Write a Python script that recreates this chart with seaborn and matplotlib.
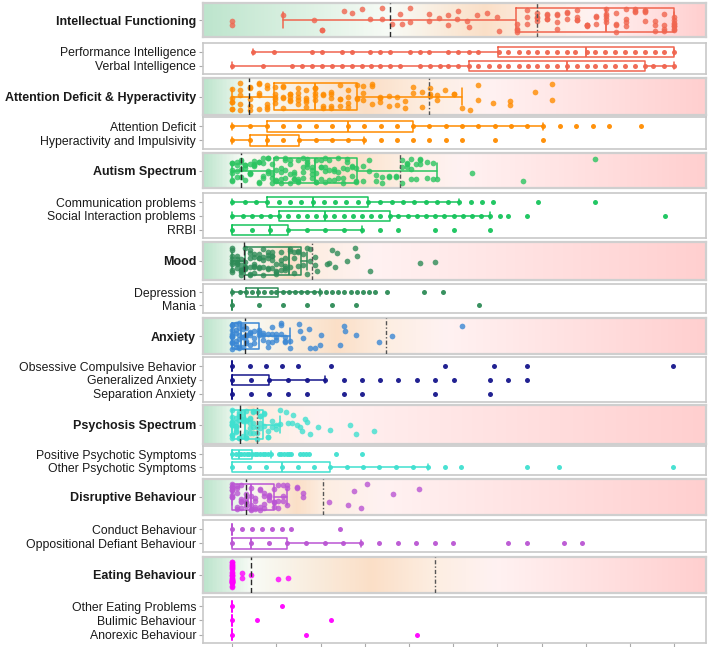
import numpy as np
import pandas as pd
import matplotlib
matplotlib.use('Agg')
import matplotlib.pyplot as plt
from matplotlib.colors import LinearSegmentedColormap
import seaborn as sns

# ---- domain scores (value, how many children at that value) ----
intel_vals = [0.0, 0.116, 0.184, 0.203, 0.252, 0.271, 0.293, 0.312, 0.339, 0.361, 0.380, 0.384,
              0.403, 0.446, 0.467, 0.489, 0.508, 0.512, 0.531, 0.535, 0.554, 0.576, 0.599, 0.603,
              0.645, 0.667, 0.690, 0.712, 0.735, 0.757, 0.780, 0.802, 0.823, 0.845, 0.868, 0.890,
              0.912, 0.934, 0.957, 0.976, 1.0]
intel_counts = [2, 1, 1, 2, 1, 1, 1, 1, 2, 1, 1, 1, 2, 2, 1, 2, 1, 1, 1, 1, 1, 1, 1, 1,
                4, 3, 4, 4, 4, 3, 4, 4, 3, 5, 4, 4, 3, 4, 3, 4, 8]

adh_vals = [0.0, 0.018, 0.041, 0.060, 0.078, 0.097, 0.115, 0.131, 0.149, 0.168, 0.187, 0.206,
            0.224, 0.243, 0.262, 0.282, 0.297, 0.316, 0.335, 0.354, 0.373, 0.391, 0.410, 0.429,
            0.448, 0.463, 0.482, 0.501, 0.520, 0.537, 0.557, 0.591, 0.629, 0.684, 0.723]
adh_counts = [6, 5, 5, 5, 5, 5, 5, 5, 5, 5, 5, 4, 5, 4, 4, 3, 3, 3, 3, 2, 2, 2, 2, 2,
              3, 2, 1, 2, 1, 1, 2, 1, 2, 1, 2]

aut_vals = [0.0, 0.010, 0.020, 0.030, 0.040, 0.050, 0.060, 0.070, 0.080, 0.090, 0.100, 0.110,
            0.120, 0.130, 0.140, 0.150, 0.160, 0.170, 0.180, 0.190, 0.200, 0.210, 0.220, 0.230,
            0.240, 0.250, 0.260, 0.270, 0.280, 0.295, 0.310, 0.325, 0.340, 0.355, 0.370, 0.385,
            0.395, 0.405, 0.415, 0.425, 0.440, 0.455, 0.463, 0.542, 0.658, 0.821]
aut_counts = [6, 4, 4, 4, 4, 4, 4, 4, 4, 4, 4, 4, 4, 4, 4, 4, 4, 4, 4, 4, 4, 4, 3, 3,
              3, 3, 3, 3, 3, 2, 2, 2, 2, 2, 2, 3, 3, 3, 2, 3, 2, 2, 1, 1, 1, 1]

mood_vals = [0.0, 0.010, 0.020, 0.030, 0.040, 0.050, 0.060, 0.070, 0.080, 0.090, 0.100, 0.110,
             0.120, 0.130, 0.140, 0.150, 0.160, 0.169, 0.176, 0.188, 0.191, 0.214, 0.218, 0.225,
             0.233, 0.237, 0.259, 0.278, 0.282, 0.312, 0.425, 0.459]
mood_counts = [8, 6, 6, 6, 6, 6, 5, 5, 5, 5, 4, 4, 4, 3, 3, 3, 2, 2, 2, 2, 1, 1, 1, 1,
               1, 1, 1, 1, 1, 1, 1, 1]

anx_vals = [0.0, 0.008, 0.016, 0.024, 0.032, 0.040, 0.050, 0.060, 0.070, 0.080, 0.090, 0.100,
            0.110, 0.120, 0.130, 0.151, 0.154, 0.161, 0.173, 0.176, 0.188, 0.199, 0.202, 0.243,
            0.252, 0.256, 0.280, 0.333, 0.361, 0.521]
anx_counts = [10, 6, 6, 5, 5, 4, 3, 3, 3, 3, 3, 3, 3, 3, 2, 1, 1, 1, 1, 1, 1, 1, 1, 1,
              1, 1, 1, 1, 1, 1]

psy_vals = [0.0, 0.008, 0.016, 0.024, 0.032, 0.040, 0.048, 0.056, 0.064, 0.072, 0.080, 0.090,
            0.100, 0.108, 0.122, 0.127, 0.135, 0.137, 0.146, 0.154, 0.157, 0.165, 0.170, 0.176,
            0.195, 0.222, 0.267, 0.280, 0.320]
psy_counts = [10, 7, 6, 6, 6, 5, 5, 4, 4, 3, 3, 2, 2, 2, 1, 1, 1, 1, 1, 1, 1, 1, 1, 1,
              1, 1, 1, 1, 1]

dis_vals = [0.0, 0.010, 0.021, 0.031, 0.042, 0.052, 0.063, 0.073, 0.083, 0.094, 0.104, 0.115,
            0.125, 0.146, 0.161, 0.220, 0.261, 0.276, 0.292, 0.306, 0.363, 0.423]
dis_counts = [8, 5, 5, 5, 5, 4, 4, 4, 4, 4, 3, 3, 3, 2, 2, 1, 1, 1, 1, 1, 1, 1]

eat_vals = [0.0, 0.022, 0.042, 0.104, 0.127]
eat_counts = [25, 2, 1, 1, 1]

# box stats: [whisker low, q1, median, q3, whisker high]
intel_box = [0.116, 0.643, 0.846, 1.0, 1.0]
adh_box = [0.0, 0.095, 0.188, 0.282, 0.520]
aut_box = [0.0, 0.094, 0.188, 0.282, 0.463]
mood_box = [0.0, 0.030, 0.128, 0.155, 0.170]
anx_box = [0.0, 0.0, 0.020, 0.060, 0.130]
psy_box = [0.0, 0.0, 0.030, 0.070, 0.108]
dis_box = [0.0, 0.0, 0.042, 0.094, 0.125]
eat_box = [0.0, 0.0, 0.0, 0.0, 0.0]

# the two reference cut-offs (dashed lines) per domain
intel_cut = [0.357, 0.689]
adh_cut = [0.039, 0.445]
aut_cut = [0.020, 0.380]
mood_cut = [0.026, 0.180]
anx_cut = [0.028, 0.348]
psy_cut = [0.017, 0.057]
dis_cut = [0.031, 0.205]
eat_cut = [0.042, 0.460]

# ---- subscales ----
perf_iq = [0.048, 0.094, 0.180, 0.203, 0.248, 0.271, 0.312, 0.335, 0.357, 0.403, 0.425, 0.446,
           0.489, 0.512, 0.535, 0.557, 0.603, 0.625, 0.648, 0.670, 0.689, 0.712, 0.735, 0.757,
           0.776, 0.802, 0.821, 0.844, 0.867, 0.889, 0.912, 0.934, 0.957, 0.976, 1.0]
verbal_iq = [0.0, 0.069, 0.135, 0.158, 0.180, 0.203, 0.225, 0.248, 0.271, 0.293, 0.314, 0.335,
             0.357, 0.380, 0.425, 0.448, 0.471, 0.489, 0.512, 0.535, 0.557, 0.580, 0.603, 0.625,
             0.648, 0.670, 0.689, 0.712, 0.735, 0.757, 0.780, 0.802, 0.821, 0.844, 0.867, 0.889,
             0.912, 0.934, 0.953, 0.976, 1.0]
perf_box = [0.048, 0.601, 0.801, 1.0, 1.0]
verbal_box = [0.0, 0.535, 0.757, 0.934, 1.0]

att_def = [0.0, 0.041, 0.078, 0.115, 0.152, 0.189, 0.225, 0.263, 0.299, 0.336, 0.373, 0.410,
           0.446, 0.483, 0.521, 0.557, 0.594, 0.631, 0.668, 0.704, 0.741, 0.778, 0.816, 0.852,
           0.925]
hyper_imp = [0.0, 0.041, 0.078, 0.115, 0.152, 0.189, 0.225, 0.263, 0.299, 0.336, 0.373, 0.410,
             0.446, 0.483, 0.521, 0.594, 0.704]
att_box = [0.0, 0.078, 0.263, 0.410, 0.704]
hyper_box = [0.0, 0.041, 0.078, 0.152, 0.299]

comm = [0.0, 0.028, 0.054, 0.078, 0.105, 0.130, 0.155, 0.182, 0.207, 0.233, 0.258, 0.284,
        0.308, 0.335, 0.361, 0.386, 0.412, 0.438, 0.463, 0.489, 0.514, 0.540, 0.565, 0.591,
        0.693, 0.821]
social = [0.0, 0.024, 0.045, 0.066, 0.086, 0.107, 0.127, 0.148, 0.169, 0.190, 0.210, 0.231,
          0.252, 0.273, 0.293, 0.314, 0.335, 0.356, 0.376, 0.397, 0.418, 0.439, 0.459, 0.480,
          0.501, 0.522, 0.542, 0.563, 0.584, 0.605, 0.625, 0.667, 0.980]
rrbi = [0.0, 0.045, 0.086, 0.127, 0.169, 0.210, 0.252, 0.293, 0.335, 0.376, 0.459, 0.501, 0.584]
comm_box = [0.0, 0.078, 0.182, 0.308, 0.514]
social_box = [0.0, 0.107, 0.210, 0.356, 0.584]
rrbi_box = [0.0, 0.0, 0.086, 0.127, 0.293]

depression = [0.0, 0.017, 0.031, 0.044, 0.059, 0.072, 0.087, 0.100, 0.114, 0.128, 0.142, 0.156,
              0.170, 0.184, 0.198, 0.212, 0.226, 0.240, 0.254, 0.268, 0.282, 0.296, 0.310, 0.324,
              0.351, 0.434, 0.476]
mania = [0.0, 0.060, 0.115, 0.170, 0.226, 0.281, 0.559]
dep_box = [0.0, 0.031, 0.059, 0.103, 0.198]
mania_box = [0.0, 0.0, 0.0, 0.0, 0.0]

ocb = [0.0, 0.040, 0.076, 0.112, 0.150, 0.224, 0.482, 0.592, 0.666, 0.998]
gen_anx = [0.0, 0.043, 0.084, 0.127, 0.169, 0.210, 0.252, 0.293, 0.335, 0.376, 0.418, 0.459,
           0.501, 0.584, 0.625, 0.667]
sep_anx = [0.0, 0.043, 0.084, 0.127, 0.169, 0.252, 0.293, 0.459, 0.584]
ocb_box = [0.0, 0.0, 0.0, 0.0, 0.0]
gen_box = [0.0, 0.0, 0.0, 0.084, 0.210]
sep_box = [0.0, 0.0, 0.0, 0.0, 0.0]

pos_psy = [0.0, 0.009, 0.015, 0.021, 0.027, 0.033, 0.039, 0.045, 0.051, 0.057, 0.063, 0.069,
           0.075, 0.081, 0.087, 0.105, 0.111, 0.117, 0.123, 0.129, 0.133, 0.154, 0.160, 0.166,
           0.173, 0.235, 0.293]
oth_psy = [0.0, 0.039, 0.076, 0.112, 0.148, 0.185, 0.222, 0.259, 0.296, 0.333, 0.370, 0.408,
           0.444, 0.482, 0.518, 0.666, 0.740, 0.998]
pos_box = [0.0, 0.0, 0.015, 0.045, 0.087]
oth_box = [0.0, 0.0, 0.112, 0.222, 0.444]

conduct = [0.0, 0.023, 0.045, 0.067, 0.089, 0.112, 0.133, 0.244]
odd = [0.0, 0.042, 0.084, 0.125, 0.167, 0.209, 0.250, 0.292, 0.333, 0.375, 0.416, 0.459,
       0.500, 0.625, 0.667, 0.750, 0.792]
conduct_box = [0.0, 0.0, 0.0, 0.0, 0.0]
odd_box = [0.0, 0.0, 0.042, 0.125, 0.292]

oth_eat = [0.0, 0.112]
bulimic = [0.0, 0.057, 0.223]
anorexic = [0.0, 0.167, 0.418]
zero_box = [0.0, 0.0, 0.0, 0.0, 0.0]

domains = [
    ('Intellectual Functioning', intel_vals, intel_counts, intel_box, intel_cut, '#F0654F',
     ['Performance Intelligence', 'Verbal Intelligence'], [perf_iq, verbal_iq],
     [perf_box, verbal_box], '#F0654F'),
    ('Attention Deficit & Hyperactivity', adh_vals, adh_counts, adh_box, adh_cut, '#FF8C00',
     ['Attention Deficit', 'Hyperactivity and Impulsivity'], [att_def, hyper_imp],
     [att_box, hyper_box], '#FF8C00'),
    ('Autism Spectrum', aut_vals, aut_counts, aut_box, aut_cut, '#2BC460',
     ['Communication problems', 'Social Interaction problems', 'RRBI'], [comm, social, rrbi],
     [comm_box, social_box, rrbi_box], '#17C45C'),
    ('Mood', mood_vals, mood_counts, mood_box, mood_cut, '#2E8B57',
     ['Depression', 'Mania'], [depression, mania], [dep_box, mania_box], '#2E8B57'),
    ('Anxiety', anx_vals, anx_counts, anx_box, anx_cut, '#3A87D4',
     ['Obsessive Compulsive Behavior', 'Generalized Anxiety', 'Separation Anxiety'],
     [ocb, gen_anx, sep_anx], [ocb_box, gen_box, sep_box], '#16168C'),
    ('Psychosis Spectrum', psy_vals, psy_counts, psy_box, psy_cut, '#40E0D0',
     ['Positive Psychotic Symptoms', 'Other Psychotic Symptoms'], [pos_psy, oth_psy],
     [pos_box, oth_box], '#40E0D0'),
    ('Disruptive Behaviour', dis_vals, dis_counts, dis_box, dis_cut, '#BA55D3',
     ['Conduct Behaviour', 'Oppositional Defiant Behaviour'], [conduct, odd],
     [conduct_box, odd_box], '#BA55D3'),
    ('Eating Behaviour', eat_vals, eat_counts, eat_box, eat_cut, '#FF00FF',
     ['Other Eating Problems', 'Bulimic Behaviour', 'Anorexic Behaviour'],
     [oth_eat, bulimic, anorexic], [zero_box, zero_box, zero_box], '#FF00FF'),
]

# panel rows in pixels (top, bottom)
panel_px = [(3, 37), (43, 74), (78, 115), (117, 149), (153, 188), (193, 238), (242, 280),
            (284, 313), (318, 354), (357, 402), (405, 444), (446, 475), (479, 515),
            (520, 552), (557, 593), (597, 643)]

sns.set_style('white')
plt.rcParams['font.family'] = ['Liberation Sans', 'DejaVu Sans']

W, H = 709, 647
XMIN, XMAX = -0.066, 1.072

fig = plt.figure(figsize=(W / 100, H / 100), dpi=100)


def make_ax(top, bottom):
    return fig.add_axes([203 / W, 1 - bottom / H, 503 / W, (bottom - top) / H])


def add_boxes(ax, boxes, color, width, cap):
    stats = [dict(whislo=b[0], q1=b[1], med=b[2], q3=b[3], whishi=b[4]) for b in boxes]
    lp = dict(color=color, lw=1.1)
    ax.bxp(stats, positions=list(range(len(boxes))), widths=width, capwidths=cap,
           orientation='horizontal', showfliers=False, manage_ticks=False,
           boxprops=lp, whiskerprops=lp, capprops=lp,
           medianprops=dict(color=color, lw=1.3), zorder=2)


def grad_cmap(cut):
    f = lambda v: (v - XMIN) / (XMAX - XMIN)
    a, b = f(cut[0]), f(cut[1])
    stops = [(0.0, '#bde5cd'), (a, '#f8fbf6'), (a + 0.65 * (b - a), '#fbdfc7'),
             (b, '#fdeee2'), (min(b + 0.12, 0.93), '#fff2f2'), (1.0, '#ffcfcf')]
    return LinearSegmentedColormap.from_list('bg', stops)


def style_ax(ax, edge, lw):
    for s in ax.spines.values():
        s.set_color(edge)
        s.set_linewidth(lw)
    ax.set_xlim(XMIN, XMAX)
    ax.set_xlabel('')
    ax.set_ylabel('')
    ax.tick_params(axis='y', left=True, length=3, width=0.8, color='#aaaaaa', pad=2,
                   labelcolor='#1a1a1a')
    ax.tick_params(axis='x', bottom=False, labelbottom=False)


for i, (name, vals, counts, box, cut, col, sub_names, sub_vals, sub_boxes, sub_col) in enumerate(domains):
    # domain panel
    ax = make_ax(*panel_px[2 * i])
    ax.imshow(np.linspace(0, 1, 400).reshape(1, -1), extent=[XMIN, XMAX, -0.5, 0.5],
              aspect='auto', cmap=grad_cmap(cut), zorder=0)
    np.random.seed(i + 3)
    sns.stripplot(x=np.repeat(vals, counts), ax=ax, color=col, jitter=0.37, size=4.1,
                  alpha=0.8, linewidth=0, zorder=3)
    add_boxes(ax, [box], col, 0.72, 0.45)
    ax.axvline(cut[0], color='#2a2a2a', ls=(0, (4, 2)), lw=1.0, zorder=4)
    ax.axvline(cut[1], color='#555555', ls=(0, (3, 1.5, 1, 1.5)), lw=1.0, zorder=4)
    ax.set_ylim(0.5, -0.5)
    style_ax(ax, '#cfcfcf', 1.6)
    ax.set_yticks([0])
    ax.set_yticklabels([name], fontsize=9, fontweight='bold')

    # subscale panel
    ax = make_ax(*panel_px[2 * i + 1])
    df = pd.DataFrame({'scale': np.repeat(sub_names, [len(v) for v in sub_vals]),
                       'value': np.concatenate(sub_vals)})
    sns.stripplot(data=df, x='value', y='scale', order=sub_names, ax=ax, color=sub_col,
                  jitter=False, size=3.6, alpha=0.95, linewidth=0, zorder=3)
    add_boxes(ax, sub_boxes, sub_col, 0.75, 0.5)
    n = len(sub_names)
    ax.set_ylim(n - 1 + 0.6, -0.65)
    style_ax(ax, '#c8c8c8', 1.2)
    ax.set_yticks(range(n))
    ax.set_yticklabels(sub_names, fontsize=8.8)

# x ticks only under the last panel
ax.set_xticks(np.arange(0, 1.01, 0.1))
ax.tick_params(axis='x', bottom=True, length=3, width=0.8, color='#aaaaaa', labelbottom=False)

fig.savefig('out.png', dpi=100)
